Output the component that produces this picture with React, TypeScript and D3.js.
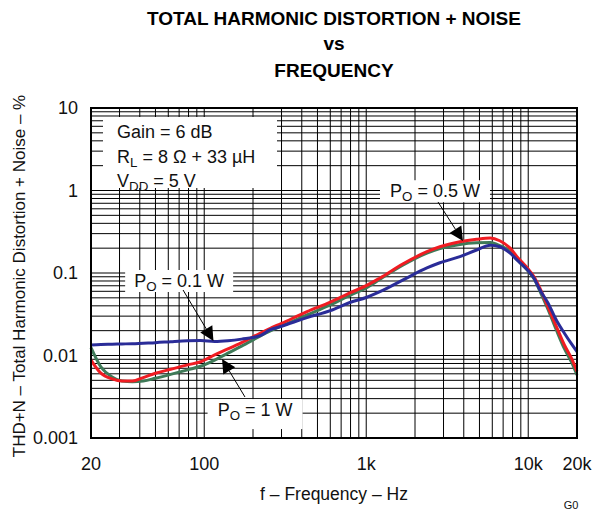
import React from 'react';
import * as d3 from 'd3';

// ---------- data ----------
const FREQ = [20, 23, 27, 31, 36, 42, 50, 62, 79, 95, 116, 140, 170, 221, 254, 300, 431, 600, 800, 1000, 1216, 1679, 2369, 2849, 3786, 4800, 5830, 6670, 7735, 8520, 9900, 10860, 11820, 13270, 14900, 16720, 18500, 20000];

const THD_01W = [0.0134, 0.0136, 0.0137, 0.0138, 0.0139, 0.0141, 0.0143, 0.0147, 0.0151, 0.0152, 0.0148, 0.0151, 0.0158, 0.0174, 0.0204, 0.0226, 0.0288, 0.035, 0.0442, 0.0505, 0.0593, 0.082, 0.115, 0.133, 0.158, 0.19, 0.217, 0.208, 0.174, 0.144, 0.1087, 0.0863, 0.0622, 0.043, 0.0269, 0.0186, 0.0138, 0.0111];

const THD_05W = [0.0088, 0.0061, 0.0052, 0.0049, 0.0049, 0.0054, 0.0061, 0.0068, 0.0077, 0.0084, 0.0102, 0.012, 0.0143, 0.0186, 0.0212, 0.0245, 0.034, 0.0443, 0.0578, 0.0702, 0.087, 0.1285, 0.181, 0.208, 0.239, 0.256, 0.265, 0.246, 0.2, 0.158, 0.114, 0.09, 0.065, 0.0384, 0.0226, 0.0134, 0.0092, 0.0064];

const THD_1W = [0.0125, 0.0073, 0.0055, 0.0049, 0.0048, 0.0049, 0.0053, 0.0059, 0.0067, 0.0074, 0.0088, 0.0107, 0.013, 0.0172, 0.0198, 0.0228, 0.031, 0.041, 0.054, 0.066, 0.084, 0.124, 0.174, 0.198, 0.222, 0.232, 0.234, 0.215, 0.182, 0.146, 0.108, 0.085, 0.06, 0.036, 0.0205, 0.0121, 0.0083, 0.0058];

const X_TICKS = [20, 100, 1000, 10000, 20000];
const X_TICK_LABELS = ['20', '100', '1k', '10k', '20k'];
const Y_TICKS = [0.001, 0.01, 0.1, 1, 10];
const Y_TICK_LABELS = ['0.001', '0.01', '0.1', '1', '10'];

const TITLE_LINES = ['TOTAL HARMONIC DISTORTION + NOISE', 'vs', 'FREQUENCY'];
const X_LABEL = 'f \u2013 Frequency \u2013 Hz';
const Y_LABEL = 'THD+N \u2013 Total Harmonic Distortion + Noise \u2013 %';

const SERIES_NAMES = ['1 W', '0.5 W', '0.1 W'];
const SERIES_VALUES = [THD_1W, THD_05W, THD_01W];
const SERIES_COLORS = ['#3f7a58', '#f01c22', '#2a2c98'];

// annotation anchors in data space
const ANNOT_LABELS = ['0.1 W', '0.5 W', '1 W'];
const ANNOT_LABEL_POS = [[70, 0.08], [2657, 0.98], [206, 0.00218]];
const ANNOT_BOX_SIZE = [[108, 22], [110, 22], [95, 27]];
const ANNOT_BOX_DY = [0, 0, 3];
const ANNOT_ARROW_FROM = [[74, 0.0622], [2773, 0.726], [178.5, 0.00314]];
const ANNOT_ARROW_TO = [[114, 0.015], [3955, 0.244], [128.8, 0.00908]];

const CONDITIONS = ['Gain = 6 dB', 'R|L| = 8 \u03a9 + 33 \u00b5H', 'V|DD| = 5 V'];

const FONT = '"Liberation Sans", Arial, Helvetica, sans-serif';

function SubText({ text, x, y, size, anchor }: { text: string; x: number; y: number; size: number; anchor?: string }) {
  const parts = text.split('|');
  const subSize = size * 0.74;
  return (
    <text x={x} y={y} fontSize={size} fontFamily={FONT} textAnchor={anchor || 'start'} dominantBaseline="central" fill="#111">
      {parts.map((p, i) => {
        const isSub = i % 2 === 1;
        const prevSub = i > 0 && (i - 1) % 2 === 1;
        return (
          <tspan key={i} fontSize={isSub ? subSize : size} dy={isSub ? size * 0.28 : prevSub ? -size * 0.28 : 0}>
            {p}
          </tspan>
        );
      })}
    </text>
  );
}

export default function App() {
  const W = 595;
  const H = 510;
  const left = 91, right = 577, top = 108, bottom = 438;

  const x = d3.scaleLog().domain([20, 20000]).range([left, right]);
  const y = d3.scaleLog().domain([0.001, 10]).range([bottom, top]);

  const xGrid: number[] = [];
  [10, 100, 1000, 10000].forEach((d) => {
    for (let k = 1; k <= 9; k++) {
      const v = k * d;
      if (v >= 20 && v <= 20000) xGrid.push(v);
    }
  });
  xGrid.push(20000);
  const yGrid: number[] = [];
  [0.001, 0.01, 0.1, 1].forEach((d) => {
    for (let k = 1; k <= 9; k++) yGrid.push(k * d);
  });
  yGrid.push(10);

  const line = d3
    .line<[number, number]>()
    .x((d) => x(d[0]))
    .y((d) => y(d[1]))
    .curve(d3.curveMonotoneX);

  const fs = 18;

  return (
    <svg width={W} height={H} style={{ position: 'absolute', left: 0, top: 0, background: '#fff' }}>
      <rect x={0} y={0} width={W} height={H} fill="#fff" />
      {TITLE_LINES.map((t, i) => (
        <text key={t} x={334} y={[18, 43, 70][i]} textAnchor="middle" dominantBaseline="central" fontFamily={FONT} fontWeight="bold" fontSize={19} fill="#000">
          {t}
        </text>
      ))}

      <g stroke="#000" strokeWidth={1}>
        {xGrid.map((v) => (
          <line key={'x' + v} x1={x(v)} x2={x(v)} y1={top} y2={bottom} />
        ))}
        {yGrid.map((v) => (
          <line key={'y' + v} x1={left} x2={right} y1={y(v)} y2={y(v)} />
        ))}
      </g>

      <rect x={103} y={117} width={174} height={71} fill="#fff" />
      {CONDITIONS.map((c, i) => (
        <SubText key={c} text={c} x={117} y={132 + i * 24.5} size={fs} />
      ))}

      {SERIES_VALUES.map((vals, si) => (
        <path
          key={SERIES_NAMES[si]}
          d={line(FREQ.map((f, i) => [f, vals[i]] as [number, number])) || ''}
          fill="none"
          stroke={SERIES_COLORS[si]}
          strokeWidth={3}
          strokeLinejoin="round"
        />
      ))}

      {ANNOT_LABELS.map((lab, i) => {
        const cx = x(ANNOT_LABEL_POS[i][0]);
        const cy = y(ANNOT_LABEL_POS[i][1]);
        const [bw, bh] = ANNOT_BOX_SIZE[i];
        const x1 = x(ANNOT_ARROW_FROM[i][0]);
        const y1 = y(ANNOT_ARROW_FROM[i][1]);
        const x2 = x(ANNOT_ARROW_TO[i][0]);
        const y2 = y(ANNOT_ARROW_TO[i][1]);
        const dx = x2 - x1, dy = y2 - y1;
        const len = Math.sqrt(dx * dx + dy * dy);
        const ux = dx / len, uy = dy / len;
        const hl = 14, hw = 7;
        const bx = x2 - ux * hl, by = y2 - uy * hl;
        const pts = `${x2},${y2} ${bx - uy * hw},${by + ux * hw} ${bx + uy * hw},${by - ux * hw}`;
        return (
          <g key={lab}>
            <rect x={cx - bw / 2} y={cy - 11} width={bw} height={bh + ANNOT_BOX_DY[i]} fill="#fff" />
            <SubText text={'P|O| = ' + lab} x={cx} y={cy} size={fs} anchor="middle" />
            <line x1={x1} y1={y1} x2={bx} y2={by} stroke="#000" strokeWidth={1} />
            <polygon points={pts} fill="#000" />
          </g>
        );
      })}

      <rect x={left} y={top} width={right - left} height={bottom - top} fill="none" stroke="#000" strokeWidth={2} />

      {Y_TICKS.map((v, i) => (
        <text key={'yt' + v} x={78} y={y(v)} textAnchor="end" dominantBaseline="central" fontFamily={FONT} fontSize={fs} fill="#111">
          {Y_TICK_LABELS[i]}
        </text>
      ))}
      {X_TICKS.map((v, i) => (
        <text key={'xt' + v} x={x(v)} y={464} textAnchor="middle" dominantBaseline="central" fontFamily={FONT} fontSize={fs} fill="#111">
          {X_TICK_LABELS[i]}
        </text>
      ))}

      <text x={334} y={494} textAnchor="middle" dominantBaseline="central" fontFamily={FONT} fontSize={17.5} fill="#111">
        {X_LABEL}
      </text>
      <text transform={`translate(19, 276) rotate(-90)`} textAnchor="middle" dominantBaseline="central" fontFamily={FONT} fontSize={17} fill="#111">
        {Y_LABEL}
      </text>
      <text x={571} y={505} textAnchor="middle" dominantBaseline="central" fontFamily={FONT} fontSize={11} fill="#111">
        G0
      </text>
    </svg>
  );
}
